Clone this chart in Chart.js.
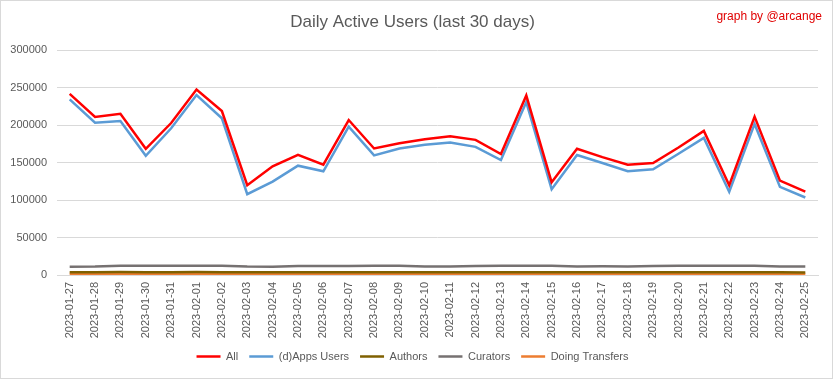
<!DOCTYPE html>
<html>
<head>
<meta charset="utf-8">
<script src="https://cdn.jsdelivr.net/npm/chart.js@4"></script>
<style>
  html, body { margin: 0; padding: 0; background: #fff; }
  #wrap { position: relative; width: 831px; height: 377px; border: 1px solid #d9d9d9; }
  #credit { position: absolute; right: 10px; top: 8px; color: #e00000; font: 12px "Liberation Sans", Arial, sans-serif; }
</style>
</head>
<body>
<div id="wrap">
  <canvas id="myChart" width="831" height="377"></canvas>
  <div id="credit">graph by @arcange</div>
</div>
<script>
// dates shown on the x axis
const days = [
  "2023-01-27", "2023-01-28", "2023-01-29", "2023-01-30", "2023-01-31",
  "2023-02-01", "2023-02-02", "2023-02-03", "2023-02-04", "2023-02-05",
  "2023-02-06", "2023-02-07", "2023-02-08", "2023-02-09", "2023-02-10",
  "2023-02-11", "2023-02-12", "2023-02-13", "2023-02-14", "2023-02-15",
  "2023-02-16", "2023-02-17", "2023-02-18", "2023-02-19", "2023-02-20",
  "2023-02-21", "2023-02-22", "2023-02-23", "2023-02-24", "2023-02-25"
];

const allUsers = [
  242000, 211000, 215400, 168600, 203000, 247800, 219000, 119900, 145100, 160600,
  147300, 207000, 169000, 176100, 181400, 185400, 180500, 161500, 239800, 123900,
  168600, 157500, 147300, 149600, 170300, 192500, 119900, 211500, 126100, 111500
];
const appsUsers = [
  234500, 203500, 205800, 159300, 196000, 240300, 209300, 108000, 124800, 146000,
  138500, 198200, 159700, 169000, 173900, 177000, 171200, 153500, 231000, 114600,
  160300, 149600, 138500, 141100, 161900, 183200, 111100, 201800, 117700, 103500
];
const authors = [
  3800, 3700, 3900, 3800, 3800, 3900, 3800, 3600, 3600, 3700,
  3700, 3800, 3700, 3800, 3700, 3700, 3700, 3600, 3800, 3600,
  3600, 3700, 3600, 3700, 3700, 3800, 3600, 3800, 3600, 3500
];
const curators = [
  11000, 11200, 12300, 12400, 12300, 12300, 12200, 11200, 11100, 12000,
  12100, 12100, 12200, 12300, 11500, 11400, 12000, 12200, 12300, 12300,
  11300, 11600, 11200, 12000, 12200, 12300, 12300, 12400, 11500, 11300
];
const transfers = [
  1500, 1500, 1600, 1500, 1500, 1600, 1500, 1400, 1400, 1500,
  1500, 1500, 1500, 1500, 1500, 1500, 1500, 1400, 1500, 1400,
  1400, 1500, 1400, 1500, 1500, 1500, 1400, 1500, 1400, 1400
];

const yTicks = [0, 50000, 100000, 150000, 200000, 250000, 300000];

const font = "'Liberation Sans', Arial, sans-serif";
Chart.defaults.font.family = font;
Chart.defaults.color = "#595959";

function series(label, data, color) {
  return {
    label: label,
    data: data,
    borderColor: color,
    backgroundColor: color,
    borderWidth: 2.5,
    pointRadius: 0,
    pointHoverRadius: 0,
    tension: 0,
    fill: false
  };
}

new Chart("myChart", {
  type: "line",
  data: {
    labels: days,
    datasets: [
      series("All", allUsers, "#ff0000"),
      series("(d)Apps Users", appsUsers, "#5b9bd5"),
      series("Authors", authors, "#7f6000"),
      series("Curators", curators, "#767171"),
      series("Doing Transfers", transfers, "#ed7d31")
    ]
  },
  options: {
    responsive: false,
    animation: false,
    layout: { padding: { top: 6, left: 6, right: 14, bottom: 6 } },
    plugins: {
      title: {
        display: true,
        text: "Daily Active Users (last 30 days)",
        color: "#595959",
        font: { size: 17, weight: "normal", family: font },
        padding: { top: 5, bottom: 18 }
      },
      legend: {
        position: "bottom",
        labels: {
          usePointStyle: true,
          pointStyle: "line",
          pointStyleWidth: 24,
          boxHeight: 3,
          padding: 11,
          color: "#595959",
          font: { size: 11 }
        }
      },
      tooltip: { enabled: false }
    },
    scales: {
      x: {
        offset: true,
        grid: { display: false, drawTicks: false },
        border: { color: "#d9d9d9" },
        afterFit: (axis) => { axis.height = 65; },
        ticks: {
          minRotation: 90,
          maxRotation: 90,
          autoSkip: false,
          padding: 7,
          color: "#595959",
          font: { size: 11 }
        }
      },
      y: {
        min: 0,
        max: 300000,
        afterFit: (axis) => { axis.width = 50; },
        afterBuildTicks: (axis) => { axis.ticks = yTicks.map(v => ({ value: v })); },
        grid: { color: "#d9d9d9", drawTicks: false },
        border: { display: false },
        ticks: {
          padding: 10,
          color: "#595959",
          font: { size: 11 },
          callback: (v) => String(v)
        }
      }
    }
  }
});
</script>
</body>
</html>
